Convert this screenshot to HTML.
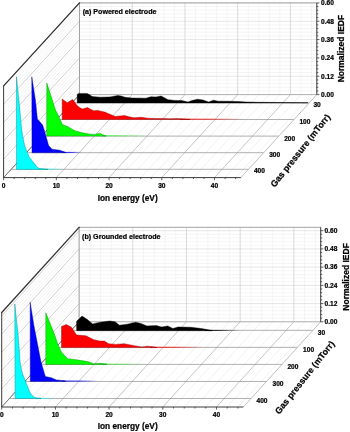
<!DOCTYPE html>
<html><head><meta charset="utf-8"><title>IEDF</title>
<style>html,body{margin:0;padding:0;background:#fff;}svg{display:block;filter:blur(0.35px);}</style></head>
<body><svg width="350" height="432" viewBox="0 0 350 432">
<defs>
<linearGradient id="g000"><stop offset="0" stop-color="#000"/><stop offset="0.4" stop-color="#000" stop-opacity="0.8"/><stop offset="1" stop-color="#000" stop-opacity="0"/></linearGradient>
<linearGradient id="gf00"><stop offset="0" stop-color="#f00"/><stop offset="0.45" stop-color="#f00" stop-opacity="0.8"/><stop offset="1" stop-color="#f00" stop-opacity="0"/></linearGradient>
<linearGradient id="g0f0"><stop offset="0" stop-color="#0f0"/><stop offset="0.4" stop-color="#0f0" stop-opacity="0.7"/><stop offset="1" stop-color="#0f0" stop-opacity="0"/></linearGradient>
<linearGradient id="g00f"><stop offset="0" stop-color="#00f"/><stop offset="0.5" stop-color="#00f" stop-opacity="0.8"/><stop offset="1" stop-color="#00f" stop-opacity="0"/></linearGradient>
<linearGradient id="g0ff"><stop offset="0" stop-color="#0ff"/><stop offset="0.5" stop-color="#0ff" stop-opacity="0.8"/><stop offset="1" stop-color="#0ff" stop-opacity="0"/></linearGradient>
</defs>
<rect width="350" height="432" fill="#fff"/>
<rect x="79.5" y="2.9" width="237.3" height="91.7" fill="#fff"/>
<path d="M90.05 2.9V94.6M100.59 2.9V94.6M111.14 2.9V94.6M121.69 2.9V94.6M142.78 2.9V94.6M153.33 2.9V94.6M163.87 2.9V94.6M174.42 2.9V94.6M195.51 2.9V94.6M206.06 2.9V94.6M216.61 2.9V94.6M227.15 2.9V94.6M248.25 2.9V94.6M258.79 2.9V94.6M269.34 2.9V94.6M279.89 2.9V94.6M300.98 2.9V94.6M311.53 2.9V94.6M79.5 90.93H316.8M79.5 87.26H316.8M79.5 83.6H316.8M79.5 79.93H316.8M79.5 72.59H316.8M79.5 68.92H316.8M79.5 65.26H316.8M79.5 61.59H316.8M79.5 54.25H316.8M79.5 50.58H316.8M79.5 46.92H316.8M79.5 43.25H316.8M79.5 35.91H316.8M79.5 32.24H316.8M79.5 28.58H316.8M79.5 24.91H316.8M79.5 17.57H316.8M79.5 13.9H316.8M79.5 10.24H316.8M79.5 6.57H316.8" stroke="#f1f1f1" stroke-width="0.7" fill="none"/>
<path d="M79.5 94.6H316.8M79.5 76.26H316.8M79.5 57.92H316.8M79.5 39.58H316.8M79.5 21.24H316.8M79.5 2.9H316.8" stroke="#dedede" stroke-width="0.8" fill="none"/>
<path d="M79.5 2.9V94.6M132.23 2.9V94.6M184.97 2.9V94.6M237.7 2.9V94.6M290.43 2.9V94.6" stroke="#d0d0d0" stroke-width="0.8" fill="none"/>
<polygon points="79.5,2.9 79.5,94.6 3.6,177.6 3.6,85.9" fill="#fff"/>
<path d="M79.5 90.93L3.6 173.93M79.5 87.26L3.6 170.26M79.5 83.6L3.6 166.6M79.5 79.93L3.6 162.93M79.5 72.59L3.6 155.59M79.5 68.92L3.6 151.92M79.5 65.26L3.6 148.26M79.5 61.59L3.6 144.59M79.5 54.25L3.6 137.25M79.5 50.58L3.6 133.58M79.5 46.92L3.6 129.92M79.5 43.25L3.6 126.25M79.5 35.91L3.6 118.91M79.5 32.24L3.6 115.24M79.5 28.58L3.6 111.58M79.5 24.91L3.6 107.91M79.5 17.57L3.6 100.57M79.5 13.9L3.6 96.9M79.5 10.24L3.6 93.24M79.5 6.57L3.6 89.57" stroke="#eeeeee" stroke-width="0.7" fill="none"/>
<path d="M79.5 94.6L3.6 177.6M79.5 76.26L3.6 159.26M79.5 57.92L3.6 140.92M79.5 39.58L3.6 122.58M79.5 21.24L3.6 104.24M79.5 2.9L3.6 85.9" stroke="#c2c2c2" stroke-width="0.8" fill="none"/>
<polygon points="79.5,94.6 316.8,94.6 240.9,177.6 3.6,177.6" fill="#fff"/>
<path d="M90.05 94.6L14.15 177.6M100.59 94.6L24.69 177.6M111.14 94.6L35.24 177.6M121.69 94.6L45.79 177.6M142.78 94.6L66.88 177.6M153.33 94.6L77.43 177.6M163.87 94.6L87.97 177.6M174.42 94.6L98.52 177.6M195.51 94.6L119.61 177.6M206.06 94.6L130.16 177.6M216.61 94.6L140.71 177.6M227.15 94.6L151.25 177.6M248.25 94.6L172.35 177.6M258.79 94.6L182.89 177.6M269.34 94.6L193.44 177.6M279.89 94.6L203.99 177.6M300.98 94.6L225.08 177.6M311.53 94.6L235.63 177.6" stroke="#ebebeb" stroke-width="0.7" fill="none"/>
<path d="M79.5 94.6L3.6 177.6M132.23 94.6L56.33 177.6M184.97 94.6L109.07 177.6M237.7 94.6L161.8 177.6M290.43 94.6L214.53 177.6" stroke="#b6b6b6" stroke-width="0.8" fill="none"/>
<path d="M71.91 102.9H309.21M56.73 119.5H294.03M41.55 136.1H278.85M26.37 152.7H263.67M11.19 169.3H248.49" stroke="#969696" stroke-width="0.75" fill="none"/>
<path d="M79.5 94.6V2.9H316.8" stroke="#9a9a9a" stroke-width="0.9" fill="none"/>
<path d="M79.5 94.6H316.8" stroke="#a8a8a8" stroke-width="0.9" fill="none"/>
<path d="M316.8 94.6L240.9 177.6" stroke="#b8b8b8" stroke-width="0.9" fill="none"/>
<path d="M79.5 94.6L3.6 177.6" stroke="#666" stroke-width="0.8" fill="none"/>
<path d="M79.5 2.9L3.6 85.9" stroke="#303030" stroke-width="1.25" fill="none" stroke-linecap="square"/>
<path d="M3.6 85.9V177.6H240.9" stroke="#3a3a3a" stroke-width="1" fill="none"/>
<path d="M316.8 2.9V94.6" stroke="#3a3a3a" stroke-width="1" fill="none"/>
<path d="M3.6 177.6v2.6M14.15 177.6v1.5M24.69 177.6v1.5M35.24 177.6v1.5M45.79 177.6v1.5M56.33 177.6v2.6M66.88 177.6v1.5M77.43 177.6v1.5M87.97 177.6v1.5M98.52 177.6v1.5M109.07 177.6v2.6M119.61 177.6v1.5M130.16 177.6v1.5M140.71 177.6v1.5M151.25 177.6v1.5M161.8 177.6v2.6M172.35 177.6v1.5M182.89 177.6v1.5M193.44 177.6v1.5M203.99 177.6v1.5M214.53 177.6v2.6M225.08 177.6v1.5M235.63 177.6v1.5M316.8 94.6h2.6M316.8 90.93h1.5M316.8 87.26h1.5M316.8 83.6h1.5M316.8 79.93h1.5M316.8 76.26h2.6M316.8 72.59h1.5M316.8 68.92h1.5M316.8 65.26h1.5M316.8 61.59h1.5M316.8 57.92h2.6M316.8 54.25h1.5M316.8 50.58h1.5M316.8 46.92h1.5M316.8 43.25h1.5M316.8 39.58h2.6M316.8 35.91h1.5M316.8 32.24h1.5M316.8 28.58h1.5M316.8 24.91h1.5M316.8 21.24h2.6M316.8 17.57h1.5M316.8 13.9h1.5M316.8 10.24h1.5M316.8 6.57h1.5M316.8 2.9h2.6" stroke="#333" stroke-width="0.8" fill="none"/>
<polygon points="77.2,102.9 77.2,94.5 78.6,93.4 87.2,93.4 89.5,94.8 92.3,96.6 100,97.2 109.5,97 114,96.2 118,95.4 122,96.2 125,97.3 132,98 145.7,98.2 151,96.8 156,96.9 161,96 164,97.5 168,99.7 175,100.4 182,100.6 188,102 192,100.5 197.4,99.2 203,100 208.6,102 213.7,100.2 218,101.2 228,101.3 238,101.5 246,102 256,102.3 280,102.5 308,102.75 308,102.9" fill="#000" stroke="#000" stroke-width="0.25" stroke-linejoin="round"/>
<polygon points="77.2,102.9 77.2,94.5 78.6,93.4 87.2,93.4 89.5,94.8 92.3,96.6 100,97.2 109.5,97 114,96.2 118,95.4 122,96.2 125,97.3 132,98 145.7,98.2 151,96.8 156,96.9 161,96 164,97.5 168,99.7 175,100.4 182,100.6 188,102 192,100.5 197.4,99.2 203,100 208.6,102 213.7,100.2 218,101.2 228,101.3 238,101.5 246,102 256,102.3 280,102.5 308,102.75 308,102.9" fill="none" stroke="#000" stroke-opacity="0.45" stroke-width="0.45" stroke-linejoin="round"/>
<rect x="180" y="118.7" width="65" height="0.9" fill="url(#gf00)"/>
<polygon points="62.2,119.5 62.2,99.1 64.5,100.8 67.3,102.7 70,101 72.7,99.6 75,102.5 77,105.6 79.5,107.5 82.4,109 85,108.2 87.6,107.6 90.5,109.3 93.6,110.7 97.9,110.4 101,111.2 104.7,112.1 108,113.4 115.3,116.4 120,116 124.7,115.6 129,116.8 134,117.8 141,117.3 148,118.2 156,118.6 163,118.4 170,118.7 177,118.5 184,119 190,119.5" fill="#f00" stroke="#f00" stroke-width="0.25" stroke-linejoin="round"/>
<polygon points="62.2,119.5 62.2,99.1 64.5,100.8 67.3,102.7 70,101 72.7,99.6 75,102.5 77,105.6 79.5,107.5 82.4,109 85,108.2 87.6,107.6 90.5,109.3 93.6,110.7 97.9,110.4 101,111.2 104.7,112.1 108,113.4 115.3,116.4 120,116 124.7,115.6 129,116.8 134,117.8 141,117.3 148,118.2 156,118.6 163,118.4 170,118.7 177,118.5 184,119 190,119.5" fill="none" stroke="#000" stroke-opacity="0.45" stroke-width="0.45" stroke-linejoin="round"/>
<rect x="100" y="135.45" width="50" height="0.75" fill="url(#g0f0)"/>
<polygon points="46.7,136.1 46.8,83 55.5,110 59,116.9 62.4,124.6 67.6,126.6 74.5,130.6 81.3,132.6 90,134.2 95,134.4 99.6,133.2 102,134.5 104.7,135.7 106,136.1" fill="#0f0" stroke="#0f0" stroke-width="0.25" stroke-linejoin="round"/>
<polygon points="46.7,136.1 46.8,83 55.5,110 59,116.9 62.4,124.6 67.6,126.6 74.5,130.6 81.3,132.6 90,134.2 95,134.4 99.6,133.2 102,134.5 104.7,135.7 106,136.1" fill="none" stroke="#000" stroke-opacity="0.45" stroke-width="0.45" stroke-linejoin="round"/>
<rect x="62" y="151.9" width="20" height="0.9" fill="url(#g00f)"/>
<polygon points="32,152.7 31.8,76.8 35.4,100 37.4,118.9 42.6,124.9 44.5,131 48.6,145.4 52,149.2 59.7,150.2 64.9,152.1 66,152.7" fill="#00f" stroke="#00f" stroke-width="0.25" stroke-linejoin="round"/>
<polygon points="32,152.7 31.8,76.8 35.4,100 37.4,118.9 42.6,124.9 44.5,131 48.6,145.4 52,149.2 59.7,150.2 64.9,152.1 66,152.7" fill="none" stroke="#000" stroke-opacity="0.45" stroke-width="0.45" stroke-linejoin="round"/>
<rect x="38" y="168.75" width="26" height="0.75" fill="url(#g0ff)"/>
<polygon points="16.5,169.4 16.5,76.8 18.9,100 21.7,130 22.9,137 24.6,145.4 27,152 29.2,156.9 33.3,162.3 37.5,167.5 40,168.6 44,169 48,169.4" fill="#0ff" stroke="#0ff" stroke-width="0.25" stroke-linejoin="round"/>
<polygon points="16.5,169.4 16.5,76.8 18.9,100 21.7,130 22.9,137 24.6,145.4 27,152 29.2,156.9 33.3,162.3 37.5,167.5 40,168.6 44,169 48,169.4" fill="none" stroke="#000" stroke-opacity="0.45" stroke-width="0.45" stroke-linejoin="round"/>
<text x="82.7" y="13.7" font-size="7.1" font-family="Liberation Sans, sans-serif" font-weight="bold" stroke="#000" stroke-width="0.22">(a) Powered electrode</text>
<text x="321.1" y="96.95" font-size="6.6" font-family="Liberation Sans, sans-serif" font-weight="bold" stroke="#000" stroke-width="0.22">0.00</text>
<text x="321.1" y="78.61" font-size="6.6" font-family="Liberation Sans, sans-serif" font-weight="bold" stroke="#000" stroke-width="0.22">0.12</text>
<text x="321.1" y="60.27" font-size="6.6" font-family="Liberation Sans, sans-serif" font-weight="bold" stroke="#000" stroke-width="0.22">0.24</text>
<text x="321.1" y="41.93" font-size="6.6" font-family="Liberation Sans, sans-serif" font-weight="bold" stroke="#000" stroke-width="0.22">0.36</text>
<text x="321.1" y="23.59" font-size="6.6" font-family="Liberation Sans, sans-serif" font-weight="bold" stroke="#000" stroke-width="0.22">0.48</text>
<text x="321.1" y="5.25" font-size="6.6" font-family="Liberation Sans, sans-serif" font-weight="bold" stroke="#000" stroke-width="0.22">0.60</text>
<text x="3.6" y="187.7" font-size="6.6" text-anchor="middle" font-family="Liberation Sans, sans-serif" font-weight="bold" stroke="#000" stroke-width="0.22">0</text>
<text x="56.33" y="187.7" font-size="6.6" text-anchor="middle" font-family="Liberation Sans, sans-serif" font-weight="bold" stroke="#000" stroke-width="0.22">10</text>
<text x="109.07" y="187.7" font-size="6.6" text-anchor="middle" font-family="Liberation Sans, sans-serif" font-weight="bold" stroke="#000" stroke-width="0.22">20</text>
<text x="161.8" y="187.7" font-size="6.6" text-anchor="middle" font-family="Liberation Sans, sans-serif" font-weight="bold" stroke="#000" stroke-width="0.22">30</text>
<text x="214.53" y="187.7" font-size="6.6" text-anchor="middle" font-family="Liberation Sans, sans-serif" font-weight="bold" stroke="#000" stroke-width="0.22">40</text>
<text x="317.1" y="107.35" font-size="6.6" text-anchor="middle" font-family="Liberation Sans, sans-serif" font-weight="bold" stroke="#000" stroke-width="0.22">30</text>
<text x="304.9" y="123.75" font-size="6.6" text-anchor="middle" font-family="Liberation Sans, sans-serif" font-weight="bold" stroke="#000" stroke-width="0.22">100</text>
<text x="289.7" y="140.95" font-size="6.6" text-anchor="middle" font-family="Liberation Sans, sans-serif" font-weight="bold" stroke="#000" stroke-width="0.22">200</text>
<text x="274.7" y="157.35" font-size="6.6" text-anchor="middle" font-family="Liberation Sans, sans-serif" font-weight="bold" stroke="#000" stroke-width="0.22">300</text>
<text x="259.4" y="173.05" font-size="6.6" text-anchor="middle" font-family="Liberation Sans, sans-serif" font-weight="bold" stroke="#000" stroke-width="0.22">400</text>
<text x="127.7" y="200.9" font-size="8.3" text-anchor="middle" font-family="Liberation Sans, sans-serif" font-weight="bold" stroke="#000" stroke-width="0.22">Ion energy (eV)</text>
<text transform="translate(343.8 48.6) rotate(-90)" font-size="8.5" text-anchor="middle" font-family="Liberation Sans, sans-serif" font-weight="bold" stroke="#000" stroke-width="0.22">Normalized IEDF</text>
<text transform="translate(302.7 152.4) rotate(-51.5)" font-size="8.9" text-anchor="middle" font-family="Liberation Sans, sans-serif" font-weight="bold" stroke="#000" stroke-width="0.22">Gas pressure (mTorr)</text>
<rect x="79.1" y="227.3" width="241.6" height="94.5" fill="#fff"/>
<path d="M89.84 227.3V321.8M100.58 227.3V321.8M111.31 227.3V321.8M122.05 227.3V321.8M143.53 227.3V321.8M154.26 227.3V321.8M165 227.3V321.8M175.74 227.3V321.8M197.22 227.3V321.8M207.95 227.3V321.8M218.69 227.3V321.8M229.43 227.3V321.8M250.9 227.3V321.8M261.64 227.3V321.8M272.38 227.3V321.8M283.12 227.3V321.8M304.59 227.3V321.8M315.33 227.3V321.8M79.1 318.16H320.7M79.1 314.51H320.7M79.1 310.87H320.7M79.1 307.22H320.7M79.1 299.94H320.7M79.1 296.29H320.7M79.1 292.65H320.7M79.1 289H320.7M79.1 281.72H320.7M79.1 278.07H320.7M79.1 274.43H320.7M79.1 270.78H320.7M79.1 263.5H320.7M79.1 259.85H320.7M79.1 256.21H320.7M79.1 252.56H320.7M79.1 245.28H320.7M79.1 241.63H320.7M79.1 237.99H320.7M79.1 234.34H320.7" stroke="#f1f1f1" stroke-width="0.7" fill="none"/>
<path d="M79.1 321.8H320.7M79.1 303.58H320.7M79.1 285.36H320.7M79.1 267.14H320.7M79.1 248.92H320.7M79.1 230.7H320.7" stroke="#dedede" stroke-width="0.8" fill="none"/>
<path d="M79.1 227.3V321.8M132.79 227.3V321.8M186.48 227.3V321.8M240.17 227.3V321.8M293.86 227.3V321.8" stroke="#d0d0d0" stroke-width="0.8" fill="none"/>
<polygon points="79.1,227.3 79.1,321.8 1.7,407 1.7,312.5" fill="#fff"/>
<path d="M79.1 318.16L1.7 403.36M79.1 314.51L1.7 399.71M79.1 310.87L1.7 396.07M79.1 307.22L1.7 392.42M79.1 299.94L1.7 385.14M79.1 296.29L1.7 381.49M79.1 292.65L1.7 377.85M79.1 289L1.7 374.2M79.1 281.72L1.7 366.92M79.1 278.07L1.7 363.27M79.1 274.43L1.7 359.63M79.1 270.78L1.7 355.98M79.1 263.5L1.7 348.7M79.1 259.85L1.7 345.05M79.1 256.21L1.7 341.41M79.1 252.56L1.7 337.76M79.1 245.28L1.7 330.48M79.1 241.63L1.7 326.83M79.1 237.99L1.7 323.19M79.1 234.34L1.7 319.54" stroke="#eeeeee" stroke-width="0.7" fill="none"/>
<path d="M79.1 321.8L1.7 407M79.1 303.58L1.7 388.78M79.1 285.36L1.7 370.56M79.1 267.14L1.7 352.34M79.1 248.92L1.7 334.12M79.1 230.7L1.7 315.9" stroke="#c2c2c2" stroke-width="0.8" fill="none"/>
<polygon points="79.1,321.8 320.7,321.8 243.3,407 1.7,407" fill="#fff"/>
<path d="M89.84 321.8L12.44 407M100.58 321.8L23.18 407M111.31 321.8L33.91 407M122.05 321.8L44.65 407M143.53 321.8L66.13 407M154.26 321.8L76.86 407M165 321.8L87.6 407M175.74 321.8L98.34 407M197.22 321.8L119.82 407M207.95 321.8L130.55 407M218.69 321.8L141.29 407M229.43 321.8L152.03 407M250.9 321.8L173.5 407M261.64 321.8L184.24 407M272.38 321.8L194.98 407M283.12 321.8L205.72 407M304.59 321.8L227.19 407M315.33 321.8L237.93 407" stroke="#ebebeb" stroke-width="0.7" fill="none"/>
<path d="M79.1 321.8L1.7 407M132.79 321.8L55.39 407M186.48 321.8L109.08 407M240.17 321.8L162.77 407M293.86 321.8L216.46 407" stroke="#b6b6b6" stroke-width="0.8" fill="none"/>
<path d="M71.36 330.32H312.96M55.88 347.36H297.48M40.4 364.4H282M24.92 381.44H266.52M9.44 398.48H251.04" stroke="#969696" stroke-width="0.75" fill="none"/>
<path d="M79.1 321.8V227.3H320.7" stroke="#9a9a9a" stroke-width="0.9" fill="none"/>
<path d="M79.1 321.8H320.7" stroke="#a8a8a8" stroke-width="0.9" fill="none"/>
<path d="M320.7 321.8L243.3 407" stroke="#b8b8b8" stroke-width="0.9" fill="none"/>
<path d="M79.1 321.8L1.7 407" stroke="#666" stroke-width="0.8" fill="none"/>
<path d="M79.1 227.3L1.7 312.5" stroke="#303030" stroke-width="1.25" fill="none" stroke-linecap="square"/>
<path d="M1.7 312.5V407H243.3" stroke="#3a3a3a" stroke-width="1" fill="none"/>
<path d="M320.7 227.3V321.8" stroke="#3a3a3a" stroke-width="1" fill="none"/>
<path d="M1.7 407v2.6M12.44 407v1.5M23.18 407v1.5M33.91 407v1.5M44.65 407v1.5M55.39 407v2.6M66.13 407v1.5M76.86 407v1.5M87.6 407v1.5M98.34 407v1.5M109.08 407v2.6M119.82 407v1.5M130.55 407v1.5M141.29 407v1.5M152.03 407v1.5M162.77 407v2.6M173.5 407v1.5M184.24 407v1.5M194.98 407v1.5M205.72 407v1.5M216.46 407v2.6M227.19 407v1.5M237.93 407v1.5M320.7 321.8h2.6M320.7 318.16h1.5M320.7 314.51h1.5M320.7 310.87h1.5M320.7 307.22h1.5M320.7 303.58h2.6M320.7 299.94h1.5M320.7 296.29h1.5M320.7 292.65h1.5M320.7 289h1.5M320.7 285.36h2.6M320.7 281.72h1.5M320.7 278.07h1.5M320.7 274.43h1.5M320.7 270.78h1.5M320.7 267.14h2.6M320.7 263.5h1.5M320.7 259.85h1.5M320.7 256.21h1.5M320.7 252.56h1.5M320.7 248.92h2.6M320.7 245.28h1.5M320.7 241.63h1.5M320.7 237.99h1.5M320.7 234.34h1.5M320.7 230.7h2.6" stroke="#333" stroke-width="0.8" fill="none"/>
<rect x="205" y="329.9" width="35" height="1" fill="url(#g000)"/>
<polygon points="76.6,330.7 76.6,321.3 82,316.1 87.4,319.6 92.6,323.9 100.3,322.2 109.7,321 115.1,321.8 119.4,325.2 127.2,324.2 135.7,322.2 140.9,323.5 146.9,325.9 156.3,325.6 161.5,327 167.7,325.9 172.9,328.5 178,327 190.9,327.3 201.2,328.5 209.7,330.1 212,330.7" fill="#000" stroke="#000" stroke-width="0.25" stroke-linejoin="round"/>
<polygon points="76.6,330.7 76.6,321.3 82,316.1 87.4,319.6 92.6,323.9 100.3,322.2 109.7,321 115.1,321.8 119.4,325.2 127.2,324.2 135.7,322.2 140.9,323.5 146.9,325.9 156.3,325.6 161.5,327 167.7,325.9 172.9,328.5 178,327 190.9,327.3 201.2,328.5 209.7,330.1 212,330.7" fill="none" stroke="#000" stroke-opacity="0.45" stroke-width="0.45" stroke-linejoin="round"/>
<rect x="150" y="346.8" width="55" height="0.9" fill="url(#gf00)"/>
<polygon points="61.5,347.6 61.5,326.5 66.3,324.6 71.4,327.2 76.6,335.1 86,335.8 93.7,339.7 100,341.1 104.3,341.1 108.6,343.7 115.4,344.4 124,343.7 134.3,345.7 142,346.9 147.2,346.2 154.9,347.1 157,347.6" fill="#f00" stroke="#f00" stroke-width="0.25" stroke-linejoin="round"/>
<polygon points="61.5,347.6 61.5,326.5 66.3,324.6 71.4,327.2 76.6,335.1 86,335.8 93.7,339.7 100,341.1 104.3,341.1 108.6,343.7 115.4,344.4 124,343.7 134.3,345.7 142,346.9 147.2,346.2 154.9,347.1 157,347.6" fill="none" stroke="#000" stroke-opacity="0.45" stroke-width="0.45" stroke-linejoin="round"/>
<rect x="100" y="363.75" width="45" height="0.75" fill="url(#g0f0)"/>
<polygon points="45.8,364.4 45.8,312.8 54.7,335 57,342 58.2,345.3 61.6,352.2 67.6,358.7 74.5,359.5 84.7,361.1 89.3,362.1 93.6,363.8 99.6,363.3 105.6,364 107,364.4" fill="#0f0" stroke="#0f0" stroke-width="0.25" stroke-linejoin="round"/>
<polygon points="45.8,364.4 45.8,312.8 54.7,335 57,342 58.2,345.3 61.6,352.2 67.6,358.7 74.5,359.5 84.7,361.1 89.3,362.1 93.6,363.8 99.6,363.3 105.6,364 107,364.4" fill="none" stroke="#000" stroke-opacity="0.45" stroke-width="0.45" stroke-linejoin="round"/>
<rect x="62" y="380.6" width="36" height="0.9" fill="url(#g00f)"/>
<polygon points="30.3,381.4 30.2,302.3 33.8,325 39.6,355 41,362 45.3,376.4 51.3,377.8 56.5,379.9 64.2,380.8 66,381.4" fill="#00f" stroke="#00f" stroke-width="0.25" stroke-linejoin="round"/>
<polygon points="30.3,381.4 30.2,302.3 33.8,325 39.6,355 41,362 45.3,376.4 51.3,377.8 56.5,379.9 64.2,380.8 66,381.4" fill="none" stroke="#000" stroke-opacity="0.45" stroke-width="0.45" stroke-linejoin="round"/>
<rect x="35" y="397.85" width="21" height="0.75" fill="url(#g0ff)"/>
<polygon points="15.1,398.5 14.8,304 17,325 17.9,332 19.6,355 20.1,362 21.5,370 23,375 29.8,392 31.5,394.6 34,397.3 37,398 41,398.5" fill="#0ff" stroke="#0ff" stroke-width="0.25" stroke-linejoin="round"/>
<polygon points="15.1,398.5 14.8,304 17,325 17.9,332 19.6,355 20.1,362 21.5,370 23,375 29.8,392 31.5,394.6 34,397.3 37,398 41,398.5" fill="none" stroke="#000" stroke-opacity="0.45" stroke-width="0.45" stroke-linejoin="round"/>
<text x="82.1" y="238.6" font-size="7.1" font-family="Liberation Sans, sans-serif" font-weight="bold" stroke="#000" stroke-width="0.22">(b) Grounded electrode</text>
<text x="324.5" y="324.15" font-size="6.6" font-family="Liberation Sans, sans-serif" font-weight="bold" stroke="#000" stroke-width="0.22">0.00</text>
<text x="324.5" y="305.93" font-size="6.6" font-family="Liberation Sans, sans-serif" font-weight="bold" stroke="#000" stroke-width="0.22">0.12</text>
<text x="324.5" y="287.71" font-size="6.6" font-family="Liberation Sans, sans-serif" font-weight="bold" stroke="#000" stroke-width="0.22">0.24</text>
<text x="324.5" y="269.49" font-size="6.6" font-family="Liberation Sans, sans-serif" font-weight="bold" stroke="#000" stroke-width="0.22">0.36</text>
<text x="324.5" y="251.27" font-size="6.6" font-family="Liberation Sans, sans-serif" font-weight="bold" stroke="#000" stroke-width="0.22">0.48</text>
<text x="324.5" y="233.05" font-size="6.6" font-family="Liberation Sans, sans-serif" font-weight="bold" stroke="#000" stroke-width="0.22">0.60</text>
<text x="1.7" y="417.1" font-size="6.6" text-anchor="middle" font-family="Liberation Sans, sans-serif" font-weight="bold" stroke="#000" stroke-width="0.22">0</text>
<text x="55.39" y="417.1" font-size="6.6" text-anchor="middle" font-family="Liberation Sans, sans-serif" font-weight="bold" stroke="#000" stroke-width="0.22">10</text>
<text x="109.08" y="417.1" font-size="6.6" text-anchor="middle" font-family="Liberation Sans, sans-serif" font-weight="bold" stroke="#000" stroke-width="0.22">20</text>
<text x="162.77" y="417.1" font-size="6.6" text-anchor="middle" font-family="Liberation Sans, sans-serif" font-weight="bold" stroke="#000" stroke-width="0.22">30</text>
<text x="216.46" y="417.1" font-size="6.6" text-anchor="middle" font-family="Liberation Sans, sans-serif" font-weight="bold" stroke="#000" stroke-width="0.22">40</text>
<text x="321.4" y="335.25" font-size="6.6" text-anchor="middle" font-family="Liberation Sans, sans-serif" font-weight="bold" stroke="#000" stroke-width="0.22">30</text>
<text x="308.6" y="351.65" font-size="6.6" text-anchor="middle" font-family="Liberation Sans, sans-serif" font-weight="bold" stroke="#000" stroke-width="0.22">100</text>
<text x="292.9" y="368.75" font-size="6.6" text-anchor="middle" font-family="Liberation Sans, sans-serif" font-weight="bold" stroke="#000" stroke-width="0.22">200</text>
<text x="278" y="386.05" font-size="6.6" text-anchor="middle" font-family="Liberation Sans, sans-serif" font-weight="bold" stroke="#000" stroke-width="0.22">300</text>
<text x="262" y="403.25" font-size="6.6" text-anchor="middle" font-family="Liberation Sans, sans-serif" font-weight="bold" stroke="#000" stroke-width="0.22">400</text>
<text x="127.7" y="429.4" font-size="8.3" text-anchor="middle" font-family="Liberation Sans, sans-serif" font-weight="bold" stroke="#000" stroke-width="0.22">Ion energy (eV)</text>
<text transform="translate(349 276.9) rotate(-90)" font-size="8.5" text-anchor="middle" font-family="Liberation Sans, sans-serif" font-weight="bold" stroke="#000" stroke-width="0.22">Normalized IEDF</text>
<text transform="translate(307.1 379.3) rotate(-51.8)" font-size="8.9" text-anchor="middle" font-family="Liberation Sans, sans-serif" font-weight="bold" stroke="#000" stroke-width="0.22">Gas pressure (mTorr)</text>
</svg></body></html>
